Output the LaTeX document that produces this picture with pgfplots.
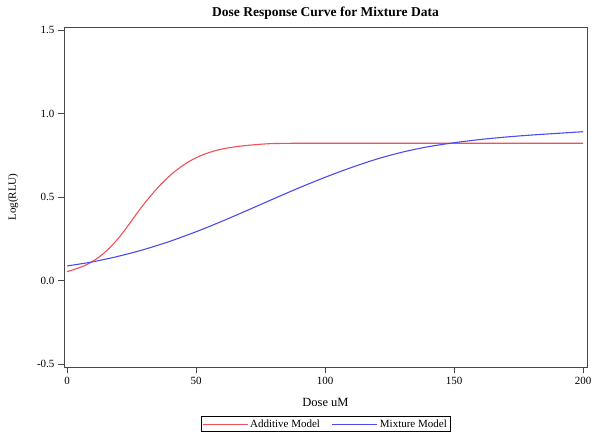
\documentclass[border=0pt]{standalone}
\usepackage{pgfplots}
\pgfplotsset{compat=1.18}
\usepackage{fontspec}
\setmainfont{Liberation Serif}
\definecolor{addred}{RGB}{240,80,88}
\definecolor{mixblue}{RGB}{76,76,236}
\definecolor{framegray}{RGB}{70,70,70}
\begin{document}
\begin{tikzpicture}
\useasboundingbox (-64pt,-74pt) rectangle (536pt,367pt);
\begin{axis}[
  at={(0pt,0pt)}, anchor=south west,
  scale only axis, width=523pt, height=340pt,
  xmin=-1.2, xmax=201.5, ymin=-0.518, ymax=1.518,
  xtick={0,50,100,150,200},
  ytick={-0.5,0,0.5,1,1.5},
  yticklabel style={/pgf/number format/.cd,fixed,fixed zerofill,precision=1},
  /pgf/number format/assume math mode=true,
  tick pos=left, tick align=outside,
  major tick length=6pt,
  axis line style={framegray, line width=0.9pt},
  tick style={framegray, line width=0.8pt},
  ticklabel style={font=\fontsize{11}{12}\selectfont},
  xticklabel style={yshift=-1pt},
  title={\fontsize{13.5}{16}\selectfont\bfseries Dose Response Curve for Mixture Data},
  title style={yshift=-2pt},
  xlabel={\fontsize{12.5}{14}\selectfont Dose uM},
  ylabel={\fontsize{11}{13}\selectfont Log(RLU)},
  xlabel style={yshift=-6pt},
  ylabel style={yshift=12pt},
  legend columns=2,
  legend style={at={(0.5,-57pt)}, anchor=center, draw=black, line width=0.6pt,
    font=\fontsize{11}{13}\selectfont, inner sep=1pt,
    /tikz/every even column/.append style={column sep=10pt}},
  legend image code/.code={\draw[#1, line width=0.9pt] (0pt,0pt) -- (45pt,0pt);},
]
\addplot[addred, line width=1.1pt, smooth] coordinates {
(0,0.053) (4,0.073) (8,0.098) (12,0.136) (16,0.188) (20,0.255) (24,0.336)
(28,0.422) (32,0.500) (36,0.570) (40,0.630) (44,0.679) (48,0.719) (52,0.749)
(56,0.771) (60,0.787) (64,0.798) (68,0.806) (72,0.812) (76,0.817) (80,0.820)
(90,0.822) (100,0.822) (150,0.822) (200,0.822)};
\addlegendentry{Additive Model}
\addplot[mixblue, line width=1.1pt, smooth] coordinates {
(0,0.087) (10,0.112) (20,0.1455) (30,0.1865) (40,0.2355) (50,0.292) (60,0.3545)
(70,0.421) (80,0.489) (90,0.5555) (100,0.618) (110,0.6755) (120,0.727)
(130,0.769) (140,0.801) (150,0.825) (160,0.844) (170,0.859) (180,0.871)
(190,0.881) (200,0.891)};
\addlegendentry{Mixture Model}
\end{axis}
\end{tikzpicture}
\end{document}
